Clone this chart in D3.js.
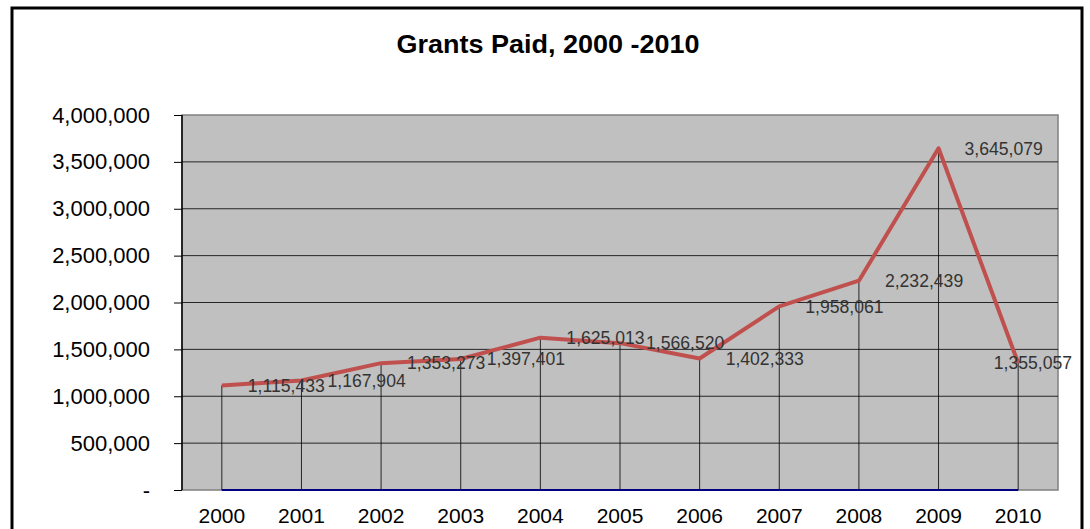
<!DOCTYPE html>
<html>
<head>
<meta charset="utf-8">
<script src="https://cdn.jsdelivr.net/npm/d3@7"></script>
<style>
  body { margin: 0; background: #fff; }
  svg { display: block; font-family: Arial, 'Liberation Sans', sans-serif; }
</style>
</head>
<body>
<svg id="chart" width="1090" height="529"></svg>
<script>
/* chart data */
const years = ['2000', '2001', '2002', '2003', '2004', '2005', '2006', '2007', '2008', '2009', '2010']
const grants = [1115433, 1167904, 1353273, 1397401, 1625013, 1566520, 1402333, 1958061, 2232439, 3645079, 1355057]
const baseline = [0, 0, 0, 0, 0, 0, 0, 0, 0, 0, 0]
const yTicks = [0, 500000, 1000000, 1500000, 2000000, 2500000, 3000000, 3500000, 4000000]

/* plot area */
const plot = { left: 182, top: 115, right: 1058, bottom: 490 }

const svg = d3.select('#chart')

/* outer frame */
svg.append('rect')
  .attr('x', 12).attr('y', 8)
  .attr('width', 1070).attr('height', 540)
  .attr('fill', '#fff')
  .attr('stroke', '#000')
  .attr('stroke-width', 3)

/* title */
svg.append('text')
  .attr('x', 548).attr('y', 53)
  .attr('text-anchor', 'middle')
  .attr('font-size', 25)
  .attr('font-weight', 'bold')
  .attr('textLength', 303)
  .attr('lengthAdjust', 'spacingAndGlyphs')
  .text('Grants Paid, 2000 -2010')

/* scales */
const x = d3.scalePoint()
  .domain(years)
  .range([plot.left, plot.right])
  .padding(0.5)

const y = d3.scaleLinear()
  .domain([0, 4000000])
  .range([plot.bottom, plot.top])

/* grey plot background */
svg.append('rect')
  .attr('x', plot.left).attr('y', plot.top)
  .attr('width', plot.right - plot.left)
  .attr('height', plot.bottom - plot.top)
  .attr('fill', '#c0c0c0')
  .attr('stroke', '#808080')
  .attr('stroke-width', 1.5)

/* horizontal gridlines */
svg.append('g')
  .selectAll('line')
  .data(yTicks.filter((d) => d > 0 && d < 4000000))
  .join('line')
  .attr('x1', plot.left).attr('x2', plot.right)
  .attr('y1', (d) => y(d)).attr('y2', (d) => y(d))
  .attr('stroke', '#000')
  .attr('stroke-width', 1)
  .attr('opacity', 0.8)

/* drop lines from each point to the base */
svg.append('g')
  .selectAll('line')
  .data(years)
  .join('line')
  .attr('x1', (d) => x(d)).attr('x2', (d) => x(d))
  .attr('y1', (d, i) => y(grants[i]))
  .attr('y2', plot.bottom)
  .attr('stroke', '#000')
  .attr('stroke-width', 1)
  .attr('opacity', 0.8)

/* y axis */
const yAxis = d3.axisLeft(y)
  .tickValues(yTicks)
  .tickSize(8)
  .tickPadding(24)
  .tickFormat((d) => (d === 0 ? '-' : d3.format(',')(d)))

svg.append('g')
  .attr('transform', `translate(${plot.left}, 0)`)
  .call(yAxis)
  .call((g) => g.select('.domain').attr('stroke', '#000').attr('stroke-width', 1.5).attr('d', `M0,${plot.top}V${plot.bottom}`))
  .call((g) => g.selectAll('.tick line').attr('stroke', '#000'))
  .call((g) => g.selectAll('.tick text')
    .attr('font-size', 22)
    .attr('fill', '#000')
    .attr('font-family', 'Arial, Liberation Sans, sans-serif'))

/* baseline series (navy) */
const line = d3.line()
  .x((d, i) => x(years[i]))
  .y((d) => y(d))

svg.append('path')
  .datum(baseline)
  .attr('d', line)
  .attr('fill', 'none')
  .attr('stroke', '#000080')
  .attr('stroke-width', 2)

/* grants line */
svg.append('path')
  .datum(grants)
  .attr('d', line)
  .attr('fill', 'none')
  .attr('stroke', '#c0504d')
  .attr('stroke-width', 4)
  .attr('stroke-linejoin', 'round')

/* x axis labels */
svg.append('g')
  .selectAll('text')
  .data(years)
  .join('text')
  .attr('x', (d) => x(d))
  .attr('y', 523)
  .attr('text-anchor', 'middle')
  .attr('font-size', 21)
  .text((d) => d)

/* data labels, placed to the right of each point */
svg.append('g')
  .selectAll('text')
  .data(grants)
  .join('text')
  .attr('x', (d, i) => x(years[i]) + 26)
  .attr('y', (d) => y(d))
  .attr('dy', '0.36em')
  .attr('font-size', 17.6)
  .attr('fill', '#333')
  .text((d) => d3.format(',')(d))
  .each(function () {
    /* keep label inside the frame */
    const w = this.getComputedTextLength()
    const x0 = +d3.select(this).attr('x')
    if (x0 + w > 1072) d3.select(this).attr('x', 1072 - w)
  })
</script>
</body>
</html>
